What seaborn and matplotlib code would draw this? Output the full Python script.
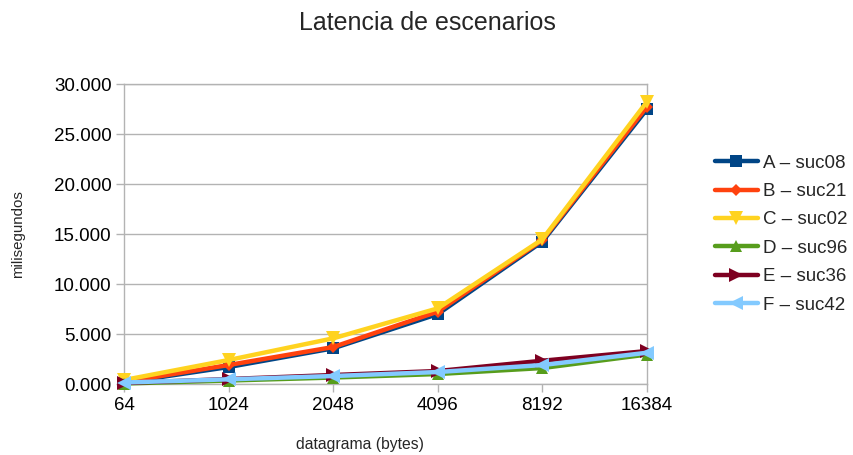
import matplotlib
matplotlib.use("Agg")
import matplotlib.pyplot as plt
import seaborn as sns
import pandas as pd
from matplotlib.ticker import FuncFormatter

# Datagram sizes (bytes) on the x axis
sizes = ["64", "1024", "2048", "4096", "8192", "16384"]

# Latency per scenario, in milliseconds
a_suc08 = [150, 1700, 3570, 7000, 14250, 27500]
b_suc21 = [200, 1900, 3700, 7240, 14400, 27750]
c_suc02 = [400, 2400, 4570, 7570, 14480, 28250]
d_suc96 = [50, 350, 650, 1000, 1600, 2950]
e_suc36 = [100, 500, 900, 1300, 2330, 3300]
f_suc42 = [150, 470, 800, 1200, 1900, 3130]

series_names = ["A – suc08", "B – suc21", "C – suc02",
                "D – suc96", "E – suc36", "F – suc42"]
series_values = [a_suc08, b_suc21, c_suc02, d_suc96, e_suc36, f_suc42]

colors = ["#004586", "#ff420e", "#ffd320", "#579d1c", "#7e0021", "#83caff"]
markers = ["s", "D", "v", "^", ">", "<"]
marker_sizes = [9, 6, 10, 9, 10, 10]

rows = []
for name, vals in zip(series_names, series_values):
    for i, v in enumerate(vals):
        rows.append({"pos": i, "size": sizes[i], "serie": name, "ms": v})
df = pd.DataFrame(rows)

sns.set_theme(style="white")
plt.rcParams["font.family"] = ["Liberation Sans", "DejaVu Sans"]

fig = plt.figure(figsize=(8.54, 4.55), dpi=100)
ax = fig.add_axes([0.1452, 0.156, 0.6124, 0.659])

for name, col, mk, ms in zip(series_names, colors, markers, marker_sizes):
    sub = df[df["serie"] == name]
    sns.lineplot(data=sub, x="pos", y="ms", ax=ax, color=col, linewidth=3.2,
                 marker=mk, markersize=ms, markeredgewidth=0,
                 label=name, clip_on=False, zorder=3)

ax.set_xlim(0, len(sizes) - 1)
ax.set_ylim(0, 30000)
ax.set_xticks(range(len(sizes)))
ax.set_xticklabels(sizes)
ax.set_yticks(range(0, 30001, 5000))
ax.yaxis.set_major_formatter(
    FuncFormatter(lambda v, p: f"{int(v):,}".replace(",", ".") + (".000" if v == 0 else "")))

ax.yaxis.grid(True, color="#b3b3b3", linewidth=1)
ax.set_axisbelow(True)
for side in ["left", "bottom", "right", "top"]:
    ax.spines[side].set_visible(True)
    ax.spines[side].set_color("#b3b3b3")
    ax.spines[side].set_linewidth(1)

ax.tick_params(axis="both", which="major", labelsize=13.5, colors="#b3b3b3",
               labelcolor="#000000", length=6, width=1,
               left=True, bottom=True, direction="out")
ax.tick_params(axis="x", pad=3)
ax.tick_params(axis="y", pad=3)

ax.set_xlabel("datagrama (bytes)", fontsize=11.3, va="top")
ax.xaxis.set_label_coords(0.451, -0.177)
ax.set_ylabel("milisegundos", fontsize=10.8)
ax.yaxis.set_label_coords(-0.189, 0.5)

fig.text(0.5, 1 - 30 / 455, "Latencia de escenarios", ha="center",
         va="baseline", fontsize=18)

leg = ax.legend(loc="center left", bbox_to_anchor=(1.130, 0.5), frameon=False,
                fontsize=13.5, handlelength=2.29, handletextpad=0.27,
                labelspacing=0.6, borderaxespad=0, borderpad=0)

fig.savefig("out.png", dpi=100)
